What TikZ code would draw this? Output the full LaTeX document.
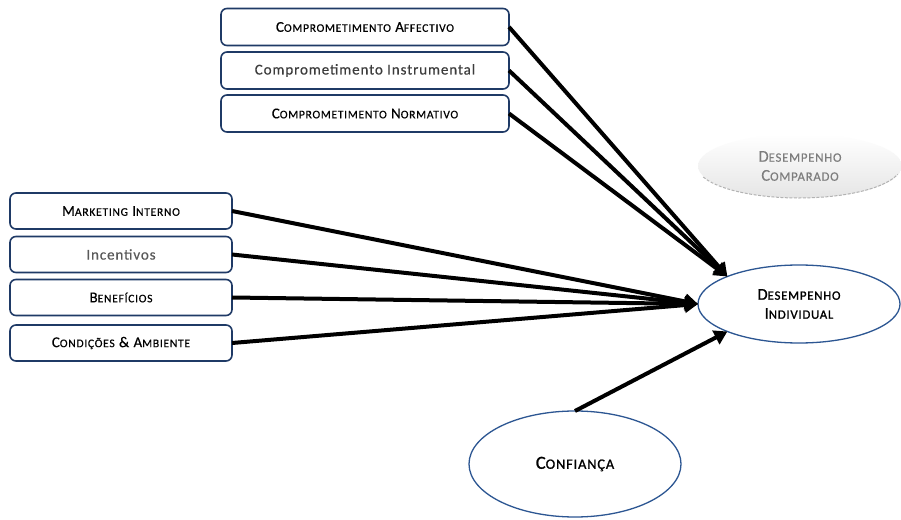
\documentclass[tikz,border=0pt]{standalone}
\usepackage{fontspec}
\setmainfont[LetterSpace=6,FakeBold=0.4]{Carlito}
\newfontfamily\heavyfont[LetterSpace=6,FakeBold=1.2]{Carlito}
\usetikzlibrary{arrows.meta,shapes.geometric}

\definecolor{boxblue}{RGB}{31,58,102}
\definecolor{ellblue}{RGB}{44,86,146}
\definecolor{midgrey}{RGB}{60,60,60}
\definecolor{softgrey}{RGB}{90,90,90}
\definecolor{fadegrey}{RGB}{125,125,125}

% hand-made small capitals: full-size initial, capitals at 77.5% after it
\makeatletter
\newcommand\smc[2]{#1{\fontsize{\strip@pt\dimexpr0.775\dimexpr\f@size pt\relax\relax}{0}\selectfont #2}}
\makeatother

\tikzset{
  label font/.style={font=\fontsize{15}{19}\selectfont},
  factor/.style={draw=boxblue, line width=1.6pt, rounded corners=6pt,
    fill=white, label font, inner sep=0pt, outer sep=0pt, text=black},
  topfactor/.style={factor, minimum width=288pt, minimum height=37pt},
  leftfactor/.style={factor, minimum width=222pt, minimum height=36pt},
  outcome/.style={ellipse, draw=ellblue, line width=1.3pt, fill=white,
    align=center, inner sep=0pt, outer sep=0pt, text=black},
  link/.style={line width=4pt, black,
    -{Triangle[length=13pt,width=15pt]}}
}

\begin{document}
\begin{tikzpicture}[x=1pt,y=1pt]
\useasboundingbox[fill=white] (0,0) rectangle (901,519);

% commitment dimensions
\node[topfactor] (ca) at (365,492)   {\smc{C}{OMPROMETIMENTO} \smc{A}{FFECTIVO}};
\node[topfactor, text=midgrey] (ci) at (365,448.5) {Comprometimento Instrumental};
\node[topfactor] (cn) at (365,405.5) {\smc{C}{OMPROMETIMENTO} \smc{N}{ORMATIVO}};

% internal marketing practices
\node[leftfactor] (mi) at (121,308)   {\smc{M}{ARKETING} \smc{I}{NTERNO}};
\node[leftfactor, text=softgrey] (in) at (121,264.5) {Incentivos};
\node[leftfactor] (be) at (121,221.5) {\smc{B}{ENEFÍCIOS}};
\node[leftfactor] (co) at (121,176)   {\smc{C}{ONDIÇÕES} \& \smc{A}{MBIENTE}};

% outcomes
\node[ellipse, minimum width=204pt, minimum height=64pt, inner sep=0pt,
      top color=white, bottom color=black!10, draw=none,
      font=\fontsize{16.5}{19}\selectfont, align=center, text=fadegrey] (dc) at (800,353)
      {\smc{D}{ESEMPENHO}\\\smc{C}{OMPARADO}};
\draw[black!30, line width=1pt, dash pattern=on 3pt off 1.5pt]
  (799,353) ++(200:102 and 32) arc[start angle=200, end angle=345,
  x radius=102, y radius=32];

\node[outcome, minimum width=202pt, minimum height=78pt,
      font=\heavyfont\fontsize{16.5}{19}\selectfont] (di) at (799,215)
      {\smc{D}{ESEMPENHO}\\\smc{I}{NDIVIDUAL}};
\node[outcome, minimum width=212pt, minimum height=106pt,
      font=\heavyfont\fontsize{18.5}{20}\selectfont] (cf) at (575,55)
      {\smc{C}{ONFIANÇA}};

% influences on individual performance
\draw[link] (ca.east) -- (di.159);
\draw[link] (ci.east) -- (di.159);
\draw[link] (cn.east) -- (di.159);
\draw[link] (mi.east) -- (di.west);
\draw[link] (in.east) -- (di.west);
\draw[link] (be.east) -- (di.west);
\draw[link] (co.east) -- (di.west);
\draw[link] (cf.north) -- (di.201);
\end{tikzpicture}
\end{document}
